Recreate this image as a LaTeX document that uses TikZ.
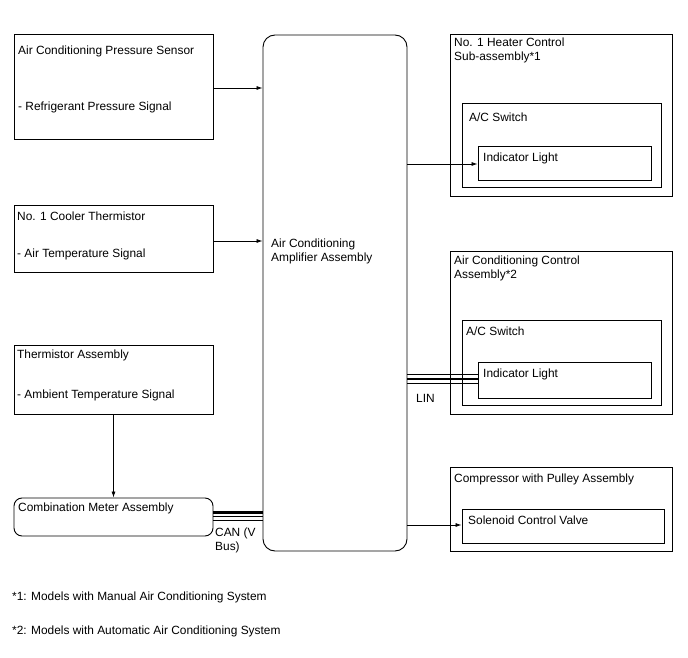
\documentclass[tikz,border=0pt]{standalone}
\usepackage{fontspec}
\setmainfont{Liberation Sans}
\usetikzlibrary{arrows.meta,calc}
\begin{document}
\begin{tikzpicture}[x=1pt,y=-1pt,
  font=\fontsize{11.9}{14}\selectfont,
  box/.style={draw,line width=0.9pt,inner sep=0pt},
  rbox/.style={box,rounded corners=8pt},
  lbl/.style={anchor=west,inner sep=0pt},
  arr/.style={line width=0.8pt,-{Latex[length=6pt,width=4pt]}},
  thin/.style={line width=0.9pt},
  thick bus/.style={line width=2.6pt}]
\useasboundingbox (0,0) rectangle (688,658);
% left boxes
\node[box,minimum width=199pt,minimum height=105pt] (ps) at (113.5,86.5) {};
\node[lbl] (psa) at (18,51) {Air Conditioning Pressure Sensor};
\node[lbl] (psb) at (18,107) {- Refrigerant Pressure Signal};
\node[box,minimum width=199pt,minimum height=67pt] (ct) at (113.5,238.5) {};
\node[lbl] (cta) at (17,216) {No. 1 Cooler Thermistor};
\node[lbl] (ctb) at (17,254) {- Air Temperature Signal};
\node[box,minimum width=199pt,minimum height=69pt] (ta) at (113.5,379.5) {};
\node[lbl] (taa) at (17,355) {Thermistor Assembly};
\node[lbl] (tab) at (17,395) {- Ambient Temperature Signal};
\node[rbox,minimum width=199pt,minimum height=38pt] (cm) at (113.5,517) {};
\node[lbl] (cma) at (18,508) {Combination Meter Assembly};
% amplifier
\node[box,rounded corners=12pt,minimum width=144pt,minimum height=516pt] (amp) at (335,293) {};
\node[lbl,align=left] (ampt) at (271,251) {Air Conditioning\\Amplifier Assembly};
% right top
\node[box,minimum width=222pt,minimum height=162pt] (hc) at (561,115) {};
\node[lbl,align=left] (hct) at (454,50) {No. 1 Heater Control\\Sub-assembly*1};
\node[box,minimum width=199pt,minimum height=84pt] (sw1) at (561.5,145) {};
\node[lbl] (sw1t) at (469,117) {A/C Switch};
\node[box,minimum width=173pt,minimum height=34pt] (il1) at (564.5,163) {};
\node[lbl] (il1t) at (483,158) {Indicator Light};
% right middle
\node[box,minimum width=222pt,minimum height=163pt] (cc) at (561,332.5) {};
\node[lbl,align=left] (cct) at (454,268) {Air Conditioning Control\\Assembly*2};
\node[box,minimum width=199pt,minimum height=85pt] (sw2) at (561.5,362.5) {};
\node[lbl] (sw2t) at (466,331) {A/C Switch};
\node[box,minimum width=173pt,minimum height=36pt] (il2) at (564.5,380) {};
\node[lbl] (il2t) at (483,374) {Indicator Light};
% right bottom
\node[box,minimum width=222pt,minimum height=84pt] (cp) at (561,509) {};
\node[lbl] (cpt) at (454,479) {Compressor with Pulley Assembly};
\node[box,minimum width=202pt,minimum height=34pt] (sv) at (563,526) {};
\node[lbl] (svt) at (468,520) {Solenoid Control Valve};
% arrows
\draw[arr] (ps.east |- 0,88) -- (amp.west |- 0,88);
\draw[arr] (ct.east |- 0,241) -- (amp.west |- 0,241);
\draw[arr] (ta.south) -- (cm.north);
\draw[arr] (amp.east |- 0,164) -- (il1.west |- 0,164);
\draw[arr] (amp.east |- 0,525) -- (sv.west |- 0,525);
% CAN bus
\draw[thick bus] (cm.east |- 0,512.5) -- (amp.west |- 0,512.5);
\draw[thin] (cm.east |- 0,516.5) -- (amp.west |- 0,516.5);
\draw[thin] (cm.east |- 0,520) -- (amp.west |- 0,520);
\node[lbl,align=left] (canl) at (215,540.5) {CAN (V\\Bus)};
% LIN bus
\draw[thin] (amp.east |- 0,374.5) -- (il2.west |- 0,374.5);
\draw[thick bus] (amp.east |- 0,379) -- (il2.west |- 0,379);
\draw[thin] (amp.east |- 0,383.5) -- (il2.west |- 0,383.5);
\node[lbl] (linl) at (416,398) {LIN};
% footnotes
\node[lbl] (fn1) at (12,597) {*1: Models with Manual Air Conditioning System};
\node[lbl] (fn2) at (12,631) {*2: Models with Automatic Air Conditioning System};
\end{tikzpicture}
\end{document}
